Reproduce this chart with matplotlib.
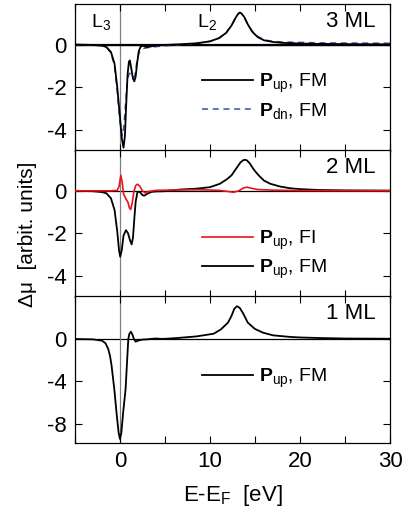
import matplotlib
matplotlib.use("Agg")
import matplotlib.pyplot as plt
from matplotlib.ticker import MultipleLocator

plt.rcParams["font.family"] = ["Liberation Sans", "DejaVu Sans"]
plt.rcParams["mathtext.fontset"] = "custom"
plt.rcParams["mathtext.rm"] = "Liberation Sans"
plt.rcParams["mathtext.it"] = "Liberation Sans:italic"
plt.rcParams["mathtext.bf"] = "Liberation Sans:bold"
plt.rcParams["axes.unicode_minus"] = False

# --- data (E - E_F in eV, delta mu in arbit. units) ---
e_3ml_up = [-5, -3, -2, -1.5, -1.0, -0.6, -0.3, 0, 0.2, 0.4, 0.55, 0.7, 0.85, 1.0, 1.1,
            1.25, 1.45, 1.6, 1.75, 1.9, 2.1, 2.3, 2.6, 2.9, 3.3, 4, 5, 7, 8.5, 10, 11,
            11.8, 12.4, 12.8, 13.1, 13.3, 13.5, 13.8, 14.2, 14.7, 15.3, 16, 17, 18, 20,
            22, 25, 30]
mu_3ml_up = [0, -0.02, -0.05, -0.12, -0.35, -0.9, -2.0, -3.4, -4.4, -4.85, -4.3, -2.8, -1.4,
             -0.8, -0.75, -1.1, -1.6, -1.73, -1.5, -0.9, -0.3, -0.1, -0.05, -0.12, -0.1,
             -0.05, -0.02, 0.02, 0.06, 0.15, 0.3, 0.55, 0.9, 1.22, 1.43, 1.5, 1.46, 1.3,
             0.95, 0.6, 0.35, 0.2, 0.12, 0.08, 0.05, 0.03, 0.02, 0.01]

e_3ml_dn = [-5, -2, -1.5, -1.0, -0.6, -0.3, 0, 0.25, 0.45, 0.65, 0.85, 1.05, 1.3, 1.5,
            1.65, 1.85, 2.1, 2.5, 3, 4, 5, 7, 8.5, 10, 11, 11.8, 12.4, 12.8, 13.1, 13.3,
            13.5, 13.8, 14.2, 14.7, 15.3, 16, 17, 18, 20, 22, 25, 30]
mu_3ml_dn = [0, -0.05, -0.12, -0.4, -1.0, -2.2, -3.6, -4.3, -3.8, -2.6, -1.6, -1.35, -1.4,
             -1.55, -1.5, -0.9, -0.4, -0.2, -0.15, -0.1, -0.06, 0.0, 0.05, 0.15, 0.3,
             0.55, 0.9, 1.22, 1.43, 1.5, 1.46, 1.3, 0.95, 0.62, 0.38, 0.22, 0.15, 0.12,
             0.1, 0.08, 0.07, 0.06]

e_2ml_fm = [-5, -3, -2, -1.5, -1.0, -0.6, -0.3, -0.1, 0.03, 0.2, 0.4, 0.67, 0.9, 1.1, 1.3,
            1.45, 1.6, 1.75, 1.95, 2.2, 2.5, 2.7, 3.0, 3.5, 4, 5, 6.7, 8.5, 10, 11.1, 11.9,
            12.4, 13.0, 13.4, 13.7, 13.9, 14.1, 14.4, 14.9, 15.4, 16, 16.7, 17.8, 18.9,
            20, 22, 25, 30]
mu_2ml_fm = [0, -0.02, -0.06, -0.12, -0.35, -0.9, -1.9, -2.8, -3.1, -2.8, -2.1, -1.85,
             -2.0, -2.3, -2.52, -2.2, -1.3, -0.5, -0.05, -0.05, -0.2, -0.23, -0.15, -0.05,
             -0.03, -0.02, 0.06, 0.1, 0.17, 0.33, 0.55, 0.73, 1.1, 1.34, 1.44, 1.46, 1.43,
             1.3, 0.98, 0.73, 0.48, 0.33, 0.2, 0.12, 0.08, 0.04, 0.02, 0.01]

e_2ml_fi = [-5, -1, -0.3, -0.1, 0.1, 0.25, 0.4, 0.65, 0.9, 1.05, 1.19, 1.35, 1.55, 1.75,
            1.96, 2.2, 2.5, 2.8, 3.2, 4, 6, 9, 11, 12, 12.6, 13.2, 13.7, 14.1, 14.6, 15.3,
            17, 20, 30]
mu_2ml_fi = [0, 0, 0.02, 0.2, 0.73, 0.4, -0.15, -0.36, -0.55, -0.8, -0.88, -0.6, -0.05,
             0.25, 0.31, 0.22, 0.0, -0.1, -0.03, 0.02, 0.04, 0.05, 0.02, -0.03, -0.07, 0.0,
             0.13, 0.17, 0.12, 0.06, 0.03, 0.01, 0]

e_1ml_up = [-5, -3, -2, -1.6, -1.3, -1.1, -0.93, -0.63, -0.35, -0.15, 0, 0.15, 0.35, 0.63,
            0.8, 0.93, 1.05, 1.22, 1.4, 1.55, 1.74, 2.0, 2.5, 3.0, 3.5, 4.0, 4.5, 5, 6.7,
            8.5, 10.4, 11.2, 12.0, 12.4, 12.7, 13.0, 13.3, 13.7, 14.2, 15, 15.9, 17, 18.9,
            20, 22, 25, 30]
mu_1ml_up = [0, -0.03, -0.15, -0.4, -0.94, -1.6, -2.5, -4.7, -7.2, -8.8, -9.43, -8.9, -7.0,
             -4.7, -2.0, 0.0, 0.5, 0.69, 0.4, 0.0, -0.25, -0.15, -0.05, -0.03, 0.02, 0.05,
             0.02, 0.02, 0.12, 0.25, 0.5, 0.9, 1.55, 2.2, 2.85, 3.1, 2.95, 2.4, 1.55, 0.95,
             0.6, 0.35, 0.2, 0.15, 0.1, 0.05, 0.03]

panel_names = ["3 ML", "2 ML", "1 ML"]
panel_ylims = [(-5.0, 1.9), (-5.0, 1.9), (-9.8, 4.05)]
panel_yticks = [[0, -2, -4], [0, -2, -4], [0, -4, -8]]
legend_y = [0.59, 0.52, 0.57]

fig = plt.figure(figsize=(4.05, 5.15), dpi=100)
left, width = 0.185, 0.778
bottoms = [0.707, 0.423, 0.140]
height = 0.285
axes = [fig.add_axes([left, b, width, height]) for b in bottoms]

up_fm = r"$\mathbf{P}_{\mathrm{up}}$, FM"

for ax, name, ylim, yt in zip(axes, panel_names, panel_ylims, panel_yticks):
    ax.set_xlim(-5, 30)
    ax.set_ylim(*ylim)
    ax.set_yticks(yt)
    ax.xaxis.set_major_locator(MultipleLocator(10))
    ax.xaxis.set_minor_locator(MultipleLocator(5))
    ax.tick_params(direction="in", top=True, right=True, length=5, width=0.8,
                   labelsize=16, pad=6)
    ax.tick_params(which="minor", direction="in", top=True, length=5, width=0.8)
    ax.axhline(0, color="black", lw=0.9, zorder=1)
    ax.axvline(0, color="#808080", lw=0.9, zorder=1)
    ax.text(0.955, 0.88, name, transform=ax.transAxes, ha="right", va="center",
            fontsize=16)
    for s in ax.spines.values():
        s.set_linewidth(0.9)

ax1, ax2, ax3 = axes
ax1.axhline(0, color="black", lw=1.6, zorder=1)
ax1.plot(e_3ml_up, mu_3ml_up, color="black", lw=1.3, label=up_fm, zorder=3)
ax1.plot(e_3ml_dn, mu_3ml_dn, color="#3653a6", lw=1.1, ls=(0, (4, 3)),
         label=r"$\mathbf{P}_{\mathrm{dn}}$, FM", zorder=2)
ax1.text(-2.1, 1.05, r"L$_3$", fontsize=14, ha="center", va="center")
ax1.text(9.7, 1.05, r"L$_2$", fontsize=14, ha="center", va="center")

ax2.plot(e_2ml_fm, mu_2ml_fm, color="black", lw=1.3, label=up_fm, zorder=2)
ax2.plot(e_2ml_fi, mu_2ml_fi, color="#e8141c", lw=1.2,
         label=r"$\mathbf{P}_{\mathrm{up}}$, FI", zorder=3)

ax3.plot(e_1ml_up, mu_1ml_up, color="black", lw=1.3, label=up_fm)

leg_kw = dict(frameon=False, fontsize=14, handlelength=2.6, handletextpad=0.3,
              labelspacing=0.3, borderaxespad=0, loc="upper left")
ax1.legend(bbox_to_anchor=(0.38, legend_y[0]), **leg_kw)
h, l = ax2.get_legend_handles_labels()
ax2.legend(h[::-1], l[::-1], bbox_to_anchor=(0.38, legend_y[1]), **leg_kw)
ax3.legend(bbox_to_anchor=(0.38, legend_y[2]), **leg_kw)

ax1.tick_params(labelbottom=False)
ax2.tick_params(labelbottom=False)
ax3.set_xlabel(r"E-E$_\mathrm{F}$  [eV]", fontsize=16, labelpad=8)
fig.text(0.068, 0.545, "Δμ  [arbit. units]", rotation=90, ha="center",
         va="center", fontsize=15)

fig.savefig("out.png", dpi=100)
